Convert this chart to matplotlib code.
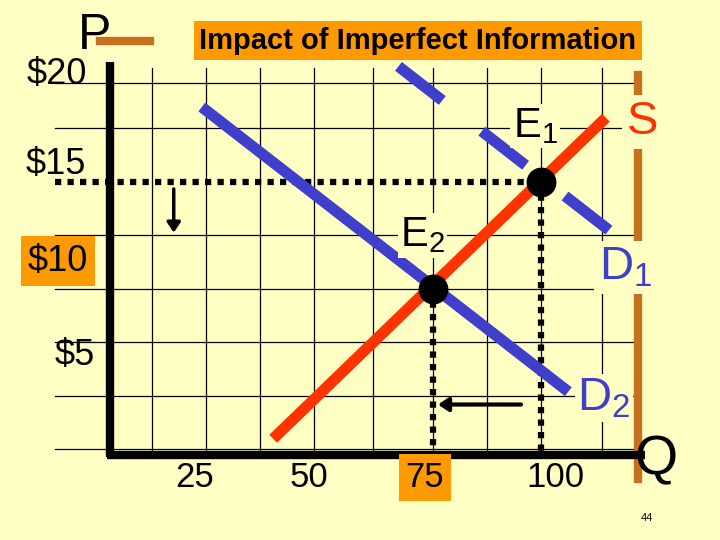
import matplotlib
matplotlib.use("Agg")
import matplotlib.pyplot as plt
from matplotlib.patches import FancyArrowPatch

plt.rcParams['font.family'] = ['Liberation Sans', 'DejaVu Sans']
plt.rcParams['mathtext.fontset'] = 'custom'
plt.rcParams['mathtext.rm'] = 'Liberation Sans'
plt.rcParams['mathtext.it'] = 'Liberation Sans'

# data (Q, P)
supply_q = [38, 115]
supply_p = [3.0, 18.0]
d1_q = [67, 123]
d1_p = [20.4, 11.6]
d2_q = [21.5, 106.3]
d2_p = [18.5, 5.2]
eq_q = [100, 75]
eq_p = [15, 10]
eq_labels = ["E$_1$", "E$_2$"]
price_labels = ["$20", "$15", "$10", "$5"]
qty_labels = ["25", "50", "75", "100"]
grid_p = [2.5, 5, 7.5, 10, 12.5, 15, 17.5, 19.6]
grid_q = [10, 22.5, 35, 47.5, 61, 75, 87.5, 100, 114]

BG = '#FFFFC4'
ORANGE = '#FF9900'
BLUE = '#3F3FCC'
RED = '#FF3300'
BROWN = '#C8701E'

fig = plt.figure(figsize=(7.2, 5.4), dpi=100, facecolor=BG)
ax = fig.add_axes([0, 0, 1, 1])
ax.set_facecolor(BG)
ax.set_xlim(-25.2, 141.4)
ax.set_ylim(-1.73, 23.5)
ax.axis('off')

P0 = 2.25  # bottom axis
for p in grid_p:
    if p != 15:
        ax.plot([-12.5, 122], [p, p], color='black', lw=0.9, zorder=1)
for q in grid_q:
    ax.plot([q, q], [P0, 20.3], color='black', lw=0.9, zorder=1)

ax.plot([0.2, 0.2], [P0 - 0.1, 20.6], color='black', lw=6, solid_capstyle='butt', zorder=3)
ax.plot([-0.5, 124], [P0, P0], color='black', lw=6, solid_capstyle='butt', zorder=3)
ax.plot([122.5, 122.5], [1.1, 20.0], color=BROWN, lw=6, zorder=2)
ax.plot([-2, 9.5], [21.6, 21.6], color=BROWN, lw=6, zorder=2)

dot = dict(color='black', lw=4.5, linestyle=(0, (1, 1)), zorder=4)
ax.plot([-12.5, eq_q[0]], [eq_p[0], eq_p[0]], **dot)
ax.plot([eq_q[0], eq_q[0]], [eq_p[0], P0], **dot)
ax.plot([eq_q[1], eq_q[1]], [eq_p[1], P0], **dot)

ax.plot(d2_q, d2_p, color=BLUE, lw=8, solid_capstyle='butt', zorder=5)
ax.plot(d1_q, d1_p, color=BLUE, lw=8, linestyle=(0, (5, 4.5)), zorder=5)
ax.plot(supply_q, supply_p, color=RED, lw=8, solid_capstyle='butt', zorder=6)
ax.scatter(eq_q, eq_p, s=420, color='black', zorder=8)

ax.add_patch(FancyArrowPatch((15, 14.8), (15, 12.5), arrowstyle='-|>,head_length=6,head_width=4',
                             color='black', lw=2.5, zorder=7))
ax.add_patch(FancyArrowPatch((96, 4.6), (75.5, 4.6), arrowstyle='-|>,head_length=6,head_width=4',
                             color='black', lw=3, zorder=7))

ax.text(98.6, 17.6, eq_labels[0], fontsize=30, ha='center', va='center', zorder=9,
        bbox=dict(boxstyle='square,pad=0.05', fc=BG, ec='none'))
ax.text(72.5, 12.5, eq_labels[1], fontsize=30, ha='center', va='center', zorder=9,
        bbox=dict(boxstyle='square,pad=0.05', fc=BG, ec='none'))
ax.text(123.5, 17.8, "S", fontsize=34, color=RED, ha='center', va='center', zorder=9,
        bbox=dict(boxstyle='square,pad=0.1', fc=BG, ec='none'))
ax.text(119.5, 11.0, "D$_1$", fontsize=34, color=BLUE, ha='center', va='center', zorder=9,
        bbox=dict(boxstyle='square,pad=0.1', fc=BG, ec='none'))
ax.text(114.5, 4.9, "D$_2$", fontsize=34, color=BLUE, ha='center', va='center', zorder=9,
        bbox=dict(boxstyle='square,pad=0.05', fc=BG, ec='none'))
ax.text(126.5, 2.0, "Q", fontsize=40, ha='center', va='center', zorder=9)
ax.text(124.5, -0.7, "44", fontsize=8, ha='center', va='center')
ax.text(-3.3, 21.8, "P", fontsize=36, ha='center', va='center', zorder=9)

ax.text(71.5, 21.6, "Impact of Imperfect Information", fontsize=21, fontweight='bold',
        ha='center', va='center', zorder=9,
        bbox=dict(boxstyle='square,pad=0.2', fc=ORANGE, ec='none'))

py = [20.0, 15.8, 11.3, 6.9]
px = [-12.0, -12.3, -11.8, -7.8]
for lab, x, y in zip(price_labels, px, py):
    kw = {}
    if lab == "$10":
        kw['bbox'] = dict(boxstyle='square,pad=0.2', fc=ORANGE, ec='none')
    ax.text(x, y, lab, fontsize=26, ha='center', va='center', zorder=9, **kw)

qx = [19.9, 46.3, 73.1, 103.3]
for lab, x in zip(qty_labels, qx):
    kw = {}
    if lab == "75":
        kw['bbox'] = dict(boxstyle='square,pad=0.2', fc=ORANGE, ec='none')
    ax.text(x, 1.2, lab, fontsize=25, ha='center', va='center', zorder=9, **kw)

fig.savefig('out.png', dpi=100, facecolor=BG)
